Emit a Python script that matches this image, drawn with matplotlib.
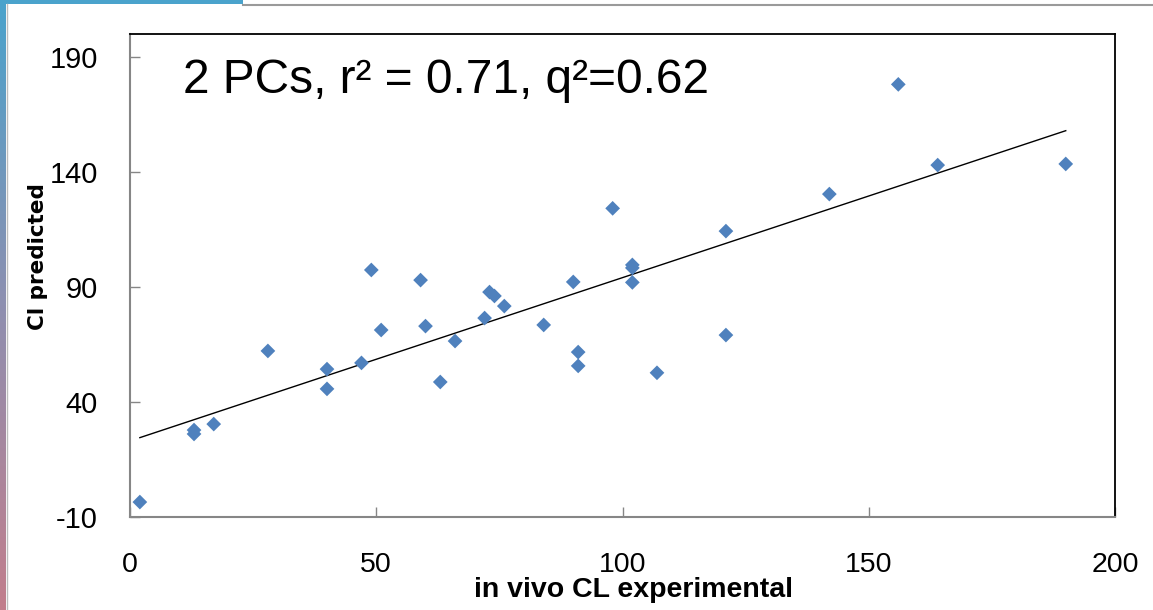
""" Predicted vs experimental CL scatter with linear trendline
"""
import numpy as np
import matplotlib as mpl
mpl.use('Agg')
import matplotlib.pyplot as plt
from matplotlib.lines import Line2D

# data
cl_exp = [2, 13, 13, 17, 28, 40, 40, 47, 49, 51, 59, 60, 63, 66, 72, 73, 74, 76,
          84, 90, 91, 91, 98, 102, 102, 102, 107, 121, 121, 142, 156, 164, 190]
cl_pred = [-3.5, 27.8, 26.1, 30.4, 62.2, 54.3, 45.7, 57.0, 97.4, 71.3, 93.0, 73.0,
           48.7, 66.5, 76.5, 87.8, 86.1, 81.7, 73.5, 92.2, 61.7, 55.7, 124.2,
           99.6, 98.3, 92.0, 52.7, 114.3, 69.1, 130.4, 178.1, 143.0, 143.5]
xticks = [0, 50, 100, 150, 200]
yticks = [-10, 40, 90, 140, 190]
title = '2 PCs, r\u00b2 = 0.71, q\u00b2=0.62'
xlabel = 'in vivo CL experimental'
ylabel = 'Cl predicted'
fout = 'out.png'

# fig config
fig_size = (11.53, 6.10)
dpi = 100
ax_rect = [130/1153, 93/610, 985/1153, 483/610]
mark_color = '#4F81BD'
axis_gray = '#868686'
plt.rcParams['axes.unicode_minus'] = False

fig = plt.figure(figsize=fig_size, dpi=dpi)
fig.patch.set_facecolor('white')

# slide decorations: gradient bar on the left, blue strip + gray rule on top
bar_ax = fig.add_axes([0, 0, 6/1153, 1])
grad = np.linspace(0, 1, 256).reshape(-1, 1)
cmap = mpl.colors.LinearSegmentedColormap.from_list('slide', ['#4AA3CC', '#8E8FB0', '#C27E8C'])
bar_ax.imshow(grad, aspect='auto', cmap=cmap, extent=[0, 1, 0, 1], origin='upper')
bar_ax.axis('off')
top_ax = fig.add_axes([0, 1-4/610, 243/1153, 4/610])
top_ax.set_facecolor('#4AA3CC')
top_ax.set_xticks([]); top_ax.set_yticks([])
for s in top_ax.spines.values(): s.set_visible(False)
fig.add_artist(Line2D([243/1153, 1], [1-4.7/610]*2, color='#9A9A9A', lw=1.5))
fig.add_artist(Line2D([6.5/1153]*2, [0, 1-4/610], color='#BDBDBD', lw=1.0))

# main plot
ax = fig.add_axes(ax_rect)
ax.scatter(cl_exp, cl_pred, marker='D', s=7.5**2, color=mark_color, edgecolor='none', zorder=3)
# linear trendline over data range
k, b = np.polyfit(cl_exp, cl_pred, 1)
xx = np.array([min(cl_exp), max(cl_exp)])
ax.plot(xx, k*xx + b, color='black', lw=1.0, zorder=2)

ax.set_xlim(0, 200)
ax.set_ylim(-10, 200)
ax.set_xticks(xticks)
ax.set_yticks(yticks)
ax.tick_params(axis='both', direction='in', length=7, width=1, color=axis_gray)
ax.tick_params(axis='y', pad=23, labelsize=21)
ax.tick_params(axis='x', pad=25, labelsize=20.5)
plt.setp(ax.get_yticklabels(), family='Liberation Sans')
plt.setp(ax.get_xticklabels(), family='Liberation Sans')
ax.spines['left'].set_color(axis_gray)
ax.spines['bottom'].set_color(axis_gray)
ax.spines['left'].set_linewidth(1.5)
ax.spines['bottom'].set_linewidth(1.5)
ax.spines['top'].set_linewidth(1.3)
ax.spines['right'].set_linewidth(1.3)

ax.text(53/985, (517-93)/483, title, transform=ax.transAxes, fontsize=34.5,
        family='Liberation Sans', va='baseline', ha='left')
ax.set_xlabel(xlabel, fontsize=20.5, fontweight='bold', family='Liberation Sans')
ax.xaxis.set_label_coords((634-130)/985, -(577-517)/483)
ax.set_ylabel(ylabel, fontsize=15.5, fontweight='bold', family='DejaVu Sans')
ax.yaxis.set_label_coords(-82/985, (517-257)/483)

plt.savefig(fout, dpi=dpi)
